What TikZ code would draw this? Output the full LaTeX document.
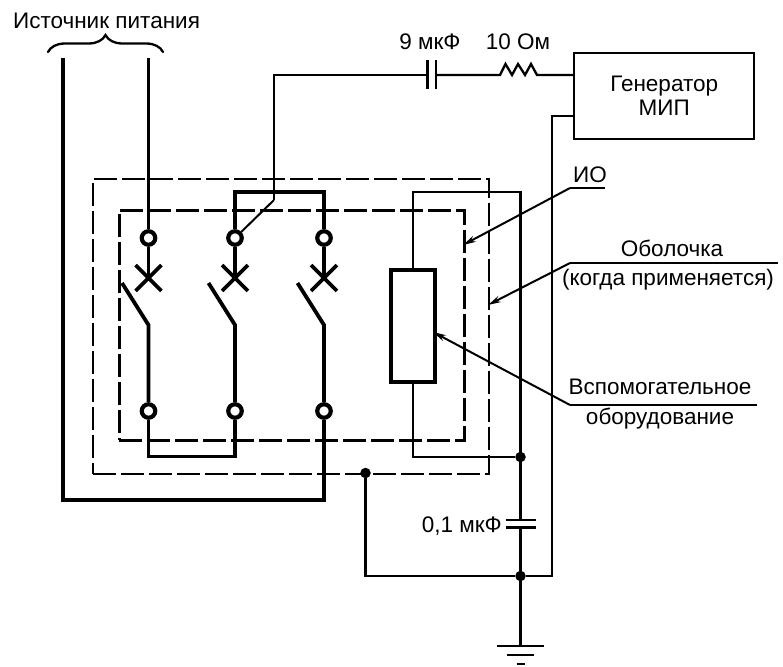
\documentclass[tikz,border=0pt]{standalone}
\usepackage{fontspec}
\setmainfont{Liberation Sans}
\usetikzlibrary{positioning,arrows.meta,shapes.misc,decorations.pathreplacing}
\tikzset{
  power/.style={line width=3.8pt},
  wire/.style={line width=2.3pt},
  shell/.style={draw,line width=2.3pt,dash pattern=on 23pt off 5pt,minimum width=396pt,minimum height=295.5pt,inner sep=0pt,anchor=north west},
  iobox/.style={draw,line width=2.9pt,dash pattern=on 23pt off 5pt,minimum width=345pt,minimum height=230pt,inner sep=0pt,anchor=north west},
  terminal/.style={circle,draw,fill=white,line width=4.2pt,minimum size=13.5pt,inner sep=0pt},
  junction/.style={circle,fill=black,minimum size=10.5pt,inner sep=0pt},
  breaker/.style={cross out,draw,line width=3.8pt,minimum size=22pt,inner sep=0pt},
  leader/.style={line width=2pt},
  pointer/.style={leader,-{Stealth[length=13pt,width=6.5pt]}},
  caption/.style={font=\fontsize{22.5}{24}\selectfont,inner sep=0pt,align=center}
}
\begin{document}
\begin{tikzpicture}[x=1pt,y=1pt,on grid]
  \useasboundingbox (0,0) rectangle (783,-666);
  % supply
  \coordinate (srcA) at (63,-58);
  \coordinate [right=85.5pt of srcA] (srcB);
  \coordinate [below=442pt of srcA] (retL);
  \node [caption] (supply) at (106.5,-21) {Источник питания};
  \coordinate (braceL) at (48,-52);
  \coordinate [right=115pt of braceL] (braceR);
  % enclosures
  \node [shell] (encl) at (92,-177.5) {};
  \node [iobox] (eut) at (118,-209) {};
  % switch poles
  \node [terminal] (t1) at (148.5,-238) {};
  \node [terminal, right=86.5pt of t1] (t2) {};
  \node [terminal, right=89pt of t2] (t3) {};
  \node [terminal, below=173pt of t1] (b1) {};
  \node [terminal, below=173pt of t2] (b2) {};
  \node [terminal, below=173pt of t3] (b3) {};
  \foreach \p in {1,2,3} {
    \node [breaker, below=40pt of t\p] (x\p) {};
    \coordinate [below=87pt of t\p] (h\p);
    \coordinate [above left=42pt and 26.5pt of h\p] (f\p);
  }
  \coordinate [above=46pt of t2] (jumpT);
  \coordinate [below=45.5pt of b1] (jumpB);
  % generator
  \node [draw, line width=2.4pt, caption, minimum width=180pt, minimum height=86pt, anchor=north west] (gen) at (573,-52) {Генератор\\МИП};
  \coordinate [below=23pt of gen.north west] (genA);
  \coordinate [below=64pt of gen.north west] (genB);
  \coordinate (tap) at (274,-200);
  \coordinate (top) at (274,-75);
  \coordinate (capL) at (427.5,-75);
  \coordinate [right=8.5pt of capL] (capR);
  \coordinate (resL) at (500,-75);
  \coordinate [right=37pt of resL] (resR);
  \node [caption] (capLabel) at (430,-42) {9 мкФ};
  \node [caption] (resLabel) at (518,-42) {10 Ом};
  % auxiliary
  \node [draw, line width=3.6pt, fill=white, minimum width=44pt, minimum height=112pt, inner sep=0pt, anchor=north west] (aux) at (389,-268) {};
  \coordinate (auxT) at (aux.north |- jumpT);
  \node [junction] (j1) at (520.5,-457) {};
  \node [junction] (j2) at (520.5,-576) {};
  \node [junction] (j3) at (365.5,-473) {};
  \coordinate [above=265pt of j1] (busT);
  \coordinate (cA) at (520.5,-520);
  \coordinate [below=7.5pt of cA] (cB);
  \coordinate [below=70pt of j2] (gnd);
  \coordinate (rise) at (552,-576);
  \node [caption, anchor=east] (cLabel) at (502,-526.5) {0,1 мкФ};
  % leaders
  \coordinate (ioL) at (570,-188);
  \coordinate [right=35pt of ioL] (ioR);
  \coordinate (ioTip) at (463,-245);
  \coordinate (shL) at (570,-263);
  \coordinate [right=208pt of shL] (shR);
  \coordinate (shTip) at (488,-305);
  \coordinate (axL) at (570,-405);
  \coordinate [right=187pt of axL] (axR);
  \coordinate (axTip) at (433,-332);
  \node [caption] (ioLabel) at (590,-175) {ИО};
  \node [caption] (shLabel) at (672,-248) {Оболочка};
  \node [caption] (shLabelB) at (668,-279.5) {(когда применяется)};
  \node [caption] (axLabel) at (660,-387) {Вспомогательное};
  \node [caption, below=31.5pt of axLabel] (axLabelB) {оборудование};

  \draw [wire, line cap=round, decorate, decoration={brace,amplitude=17pt}] (braceL) -- (braceR);
  \draw [power] (srcA) -- (retL) -- (retL -| b3) -- (b3);
  \draw [power] (srcB) -- (t1);
  \foreach \p in {1,2,3} {
    \draw [power] (t\p) -- (x\p.center);
    \draw [power] (f\p) -- (h\p) -- (b\p);
  }
  \draw [power] (t2) |- (jumpT) -| (t3);
  \draw [power] (b1) |- (jumpB) -| (b2);

  \draw [leader] (t2) -- (tap);
  \draw [wire] (tap) -- (top) -- (capL);
  \draw [wire, line width=2.6pt] ([yshift=14.5pt]capL) -- ([yshift=-14.5pt]capL);
  \draw [wire, line width=2.6pt] ([yshift=14.5pt]capR) -- ([yshift=-14.5pt]capR);
  \draw [wire] (capR) -- (resL) -- ++(5.5,11) -- ++(6.5,-11) -- ++(6,11) -- ++(7,-11) -- ++(6,11) -- (resR) -- (genA);
  \draw [wire] (genB) -| (rise) -- (j2);
  \draw [wire] (j3) |- (j2);
  \draw [wire] (aux) -- (auxT) -- (busT) -- (cA);
  \draw [wire] (aux) |- (j1);
  \draw [wire, line width=2.6pt] ([xshift=-15pt]cA) -- ([xshift=15pt]cA);
  \draw [wire, line width=2.6pt] ([xshift=-15pt]cB) -- ([xshift=15pt]cB);
  \draw [wire] (cB) -- (gnd);
  \draw [wire] ([xshift=-23.5pt]gnd) -- ([xshift=23.5pt]gnd);
  \draw [wire] ([xshift=-13.5pt,yshift=-9pt]gnd) -- ([xshift=13.5pt,yshift=-9pt]gnd);
  \draw [wire] ([xshift=-4pt,yshift=-18pt]gnd) -- ([xshift=4pt,yshift=-18pt]gnd);

  \draw [leader] (ioR) -- (ioL);
  \draw [pointer] (ioL) -- (ioTip);
  \draw [leader] (shR) -- (shL);
  \draw [pointer] (shL) -- (shTip);
  \draw [leader] (axR) -- (axL);
  \draw [pointer] (axL) -- (axTip);
\end{tikzpicture}
\end{document}
